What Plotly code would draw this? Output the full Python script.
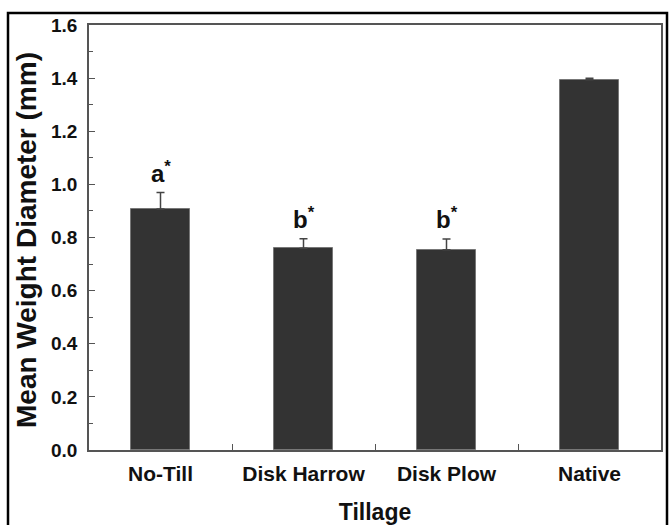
import plotly.graph_objects as go

# Mean weight diameter of soil aggregates by tillage system
categories = ["No-Till", "Disk Harrow", "Disk Plow", "Native"]
mwd = [0.907, 0.760, 0.754, 1.394]
mwd_err = [0.062, 0.035, 0.040, 0.006]
letters = ["a", "b", "b", ""]
yticks = [0, 0.2, 0.4, 0.6, 0.8, 1.0, 1.2, 1.4, 1.6]

W, H = 669, 525
L, R, T, B = 89, 8, 25, 75
pw, ph = W - L - R, H - T - B

font_main = "Liberation Sans, Arial, sans-serif"

fig = go.Figure()
fig.add_trace(go.Bar(
    x=list(range(len(categories))),
    y=mwd,
    width=0.41,
    marker=dict(color="#333333", line=dict(color="#777777", width=1)),
    error_y=dict(type="data", symmetric=False, array=mwd_err,
                 arrayminus=[0] * len(mwd_err),
                 color="#444444", thickness=1.5, width=4),
    showlegend=False,
))

for i, (v, e, s) in enumerate(zip(mwd, mwd_err, letters)):
    if s:
        fig.add_annotation(x=i, y=v + e, yshift=21, text=f"<b>{s}</b><sup><b>*</b></sup>",
                           showarrow=False, xanchor="center", yanchor="middle",
                           font=dict(family=font_main, size=24, color="#111"))

# rotated y-axis title
fig.add_annotation(xref="paper", yref="paper",
                   x=(26 - L) / pw, y=(450 - 240) / ph,
                   text="<b>Mean Weight Diameter (mm)</b>", textangle=-90,
                   showarrow=False, xanchor="center", yanchor="middle",
                   font=dict(family=font_main, size=28, color="#111"))

# outer frame around the whole figure
fig.add_shape(type="rect", xref="paper", yref="paper",
              x0=(8 - L) / pw, x1=(667 - L) / pw,
              y0=-(B + 10) / ph, y1=1 + (T - 13) / ph,
              line=dict(color="black", width=2.5), layer="above")

fig.update_layout(
    width=W, height=H,
    margin=dict(l=L, r=R, t=T, b=B, autoexpand=False),
    paper_bgcolor="white", plot_bgcolor="white",
    bargap=0,
    xaxis=dict(
        range=[-0.5, 3.5],
        automargin=False,
        tickmode="array",
        tickvals=list(range(len(categories))),
        ticktext=[f"<b>{c}</b>" for c in categories],
        ticks="", showline=True, linecolor="#555", linewidth=1.5, mirror=True,
        ticklabelstandoff=4,
        tickfont=dict(family=font_main, size=21, color="#111"),
        title=dict(text="<b>Tillage</b>", standoff=20,
                   font=dict(family=font_main, size=23, color="#111")),
        minor=dict(tickvals=[0.5, 1.5, 2.5], ticks="inside", ticklen=6,
                   tickcolor="#555", tickwidth=1),
        showgrid=False, zeroline=False, fixedrange=True,
    ),
    yaxis=dict(
        range=[0, 1.6],
        automargin=False,
        tickmode="array",
        tickvals=yticks,
        ticktext=[f"<b>{v:.1f}</b>" for v in yticks],
        ticks="inside", ticklen=6, tickcolor="#555", tickwidth=1,
        showline=True, linecolor="#555", linewidth=1.5, mirror=True,
        ticklabelstandoff=6,
        tickfont=dict(family=font_main, size=19, color="#111"),
        minor=dict(dtick=0.1, ticks="inside", ticklen=4, tickcolor="#555",
                   tickwidth=1, showgrid=False),
        showgrid=False, zeroline=False, fixedrange=True,
    ),
)

fig.write_html("out.html")
